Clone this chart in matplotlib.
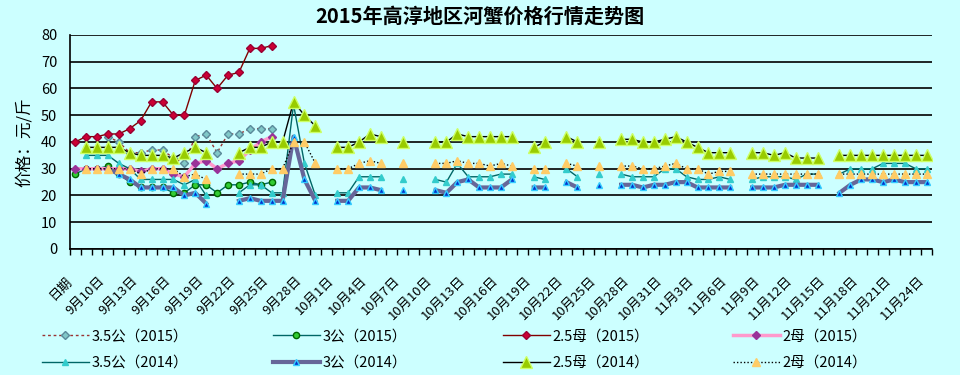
import numpy as np
import matplotlib.pyplot as plt

plt.rcParams['font.family'] = ['Noto Sans CJK SC', 'DejaVu Sans']

bg = '#CCFFFF'
_ = None

# 横轴：79 个日期类别，每 3 个显示一个标签
n_cat = 79
tick_labels = ['日期', '9月10日', '9月13日', '9月16日', '9月19日', '9月22日', '9月25日', '9月28日',
               '10月1日', '10月4日', '10月7日', '10月10日', '10月13日', '10月16日', '10月19日',
               '10月22日', '10月25日', '10月28日', '10月31日', '11月3日', '11月6日', '11月9日',
               '11月12日', '11月15日', '11月18日', '11月21日', '11月24日']

# 2015 年（只到 9 月下旬）
gong35_2015 = [_, _, _, 42, 40, 36, 36, 37, 37, 34, 32, 42, 43, 36, 43, 43, 45, 45, 45]
gong3_2015 = [28, 30, 30, 31, 28, 25, 23, 23, 23, 21, 21, 24, 24, 21, 24, 24, 25, 24, 25]
mu25_2015 = [40, 42, 42, 43, 43, 45, 48, 55, 55, 50, 50, 63, 65, 60, 65, 66, 75, 75, 76]
mu2_2015 = [30, 30, 30, 30, 30, 30, 29, 30, 30, 28, 27, 32, 33, 30, 32, 33, 37, 40, 42]

# 2014 年
gong35_2014 = [_, 35, 35, 35, 32, 30, 26, 26, 26, 26,
               24, 26, 20, _, _, 21, 24, 24, 21, 21,
               54, 32, 20, _, 21, 21, 27, 27, 27, _,
               26, _, _, 26, 25, 32, 27, 27, 27, 28,
               28, _, 27, 26, _, 30, 27, _, 28, _,
               28, 27, 27, 27, 30, 30, 27, 26, 26, 27,
               26, _, 26, 27, 27, 27, 26, 28, 28, _,
               28, 30, 30, 30, 32, 32, 32, 30, 30]
gong3_2014 = [_, _, _, 30, 28, 26, 23, 23, 23, 23,
              20, 21, 17, _, _, 18, 19, 18, 18, 18,
              42, 26, 18, _, 18, 18, 23, 23, 22, _,
              22, _, _, 22, 21, 25, 26, 23, 23, 23,
              26, _, 23, 23, _, 25, 23, _, 24, _,
              24, 24, 23, 24, 24, 25, 25, 23, 23, 23,
              23, _, 23, 23, 23, 24, 24, 24, 24, _,
              21, 24, 26, 26, 25, 26, 25, 25, 25]
mu25_2014 = [_, 38, 38, 38, 38, 36, 35, 35, 35, 34,
             36, 38, 36, _, _, 36, 38, 38, 40, 40,
             55, 50, 46, _, 38, 38, 40, 43, 42, _,
             40, _, _, 40, 40, 43, 42, 42, 42, 42,
             42, _, 38, 40, _, 42, 40, _, 40, _,
             41, 41, 40, 40, 41, 42, 40, 38, 36, 36,
             36, _, 36, 36, 35, 36, 34, 34, 34, _,
             35, 35, 35, 35, 35, 35, 35, 35, 35]
mu2_2014 = [_, 30, 30, 30, 30, 30, 28, 30, 30, 30,
            27, 28, 26, _, _, 28, 28, 28, 30, 30,
            40, 40, 32, _, 30, 30, 32, 33, 32, _,
            32, _, _, 32, 32, 33, 32, 32, 31, 32,
            31, _, 30, 30, _, 32, 31, _, 31, _,
            31, 31, 30, 30, 31, 32, 30, 30, 28, 29,
            29, _, 28, 28, 28, 28, 28, 28, 28, _,
            28, 28, 28, 28, 28, 28, 28, 28, 28]

series = [
    ('3.5公（2015）', gong35_2015, dict(color='#993333', lw=1, ls=(0, (2, 2)), marker='D', ms=4,
                                      mfc='#80C8C8', mec='#5A8A9A')),
    ('3公（2015）', gong3_2015, dict(color='#006666', lw=1, marker='o', ms=4.5,
                                    mfc='#33CC33', mec='#006600')),
    ('2.5母（2015）', mu25_2015, dict(color='#800000', lw=1, marker='D', ms=4,
                                     mfc='#CC0033', mec='#990033')),
    ('2母（2015）', mu2_2015, dict(color='#FF99CC', lw=2.5, marker='D', ms=4,
                                  mfc='#993399', mec='#993399')),
    ('3.5公（2014）', gong35_2014, dict(color='#006666', lw=1, marker='^', ms=4,
                                      mfc='#33CCCC', mec='#33CCCC')),
    ('3公（2014）', gong3_2014, dict(color='#666699', lw=3, marker='^', ms=5,
                                    mfc='#0033CC', mec='#33CCFF')),
    ('2.5母（2014）', mu25_2014, dict(color='black', lw=1, marker='^', ms=8.5,
                                     mfc='#99CC00', mec='#CCFF66')),
    ('2母（2014）', mu2_2014, dict(color='black', lw=1, ls=(0, (1, 1.5)), marker='^', ms=6,
                                  mfc='#FFCC66', mec='#FFCC66')),
]

fig = plt.figure(figsize=(9.6, 3.75), dpi=100, facecolor=bg)
ax = fig.add_axes([0.0726, 0.336, 0.8985, 0.5707])
ax.set_facecolor(bg)

handles = []
for name, vals, st in series:
    y = np.array(vals, dtype=float)
    x = np.arange(len(y))
    ln, = ax.plot(x, y, label=name, **st)
    handles.append(ln)

ax.set_yticks(range(0, 81, 10))
ax.yaxis.grid(True, color='black', lw=1.2)
ax.set_axisbelow(True)
for s in ['top', 'right']:
    ax.spines[s].set_visible(False)
ax.spines['left'].set_linewidth(1.2)
ax.spines['bottom'].set_linewidth(1.2)
ax.tick_params(axis='y', length=0, labelsize=10.5, pad=9)

# 刻度线画在类别分界处，标签另外写
ax.set_xticks(np.arange(-0.5, n_cat, 1))
ax.set_xticklabels([])
ax.tick_params(axis='x', length=4, direction='out', width=1)
ax.set_ylim(0, 80)
ax.set_xlim(-0.5, n_cat - 0.5)

for i, lbl in zip(range(0, n_cat, 3), tick_labels):
    ax.annotate(lbl, xy=(i, 0), xycoords=('data', 'axes fraction'),
                xytext=(-7, -18), textcoords='offset points',
                rotation=45, rotation_mode='anchor', ha='right', va='top',
                fontsize=9.5, annotation_clip=False)

ax.set_ylabel('价格：元/斤', fontsize=12, labelpad=6)
fig.suptitle('2015年高淳地区河蟹价格行情走势图', fontsize=14.5, fontweight='bold', y=0.985)

# 图例：4 列，每列 2015 在上、2014 在下
col_x = [42, 273, 503, 733]
for k in range(4):
    fig.legend(handles=[handles[k], handles[k + 4]], loc='center left',
               bbox_to_anchor=(col_x[k] / 960, 1 - 349.5 / 375), frameon=False,
               fontsize=10.5, handlelength=3.2, handletextpad=0.2, numpoints=1,
               labelspacing=0.85, borderpad=0, borderaxespad=0)

fig.savefig('out.png', dpi=100, facecolor=bg)
